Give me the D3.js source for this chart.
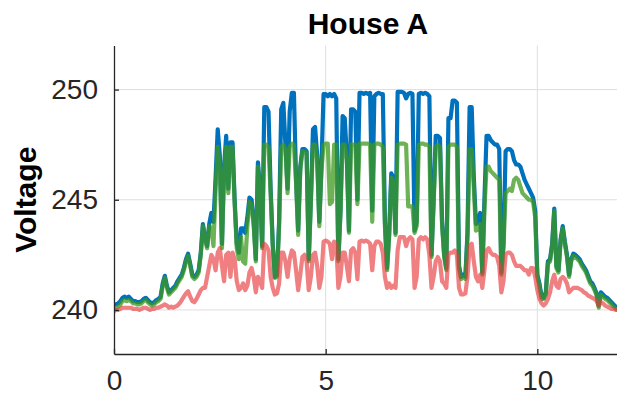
<!DOCTYPE html>
<html>
<head>
<meta charset="utf-8">
<script src="https://cdn.jsdelivr.net/npm/d3@7"></script>
<style>
  body { margin: 0; background: #fff; }
  text { font-family: "Liberation Sans", Arial, Helvetica, sans-serif; }
</style>
</head>
<body>
<svg id="chart" width="617" height="404"></svg>
<script>
// values, one every 0.05 h (3 min), 0..12 h
const stepHours = 0.05;

const voltageBlue = [
  240.25, 240.25, 240.3, 240.4, 240.55, 240.6, 240.55, 240.6, 240.5, 240.4, 240.4, 240.35, 240.35, 240.4, 240.5, 240.55, 240.45, 240.35, 240.3, 240.35,
  240.45, 240.5, 240.6, 241.2, 241.55, 241.1, 240.8, 240.9, 241.0, 241.1, 241.3, 241.45, 241.6, 241.9, 242.3, 242.55, 242.1, 241.6, 241.5, 241.6,
  241.8, 242.6, 243.9, 243.3, 242.9, 243.9, 244.4, 244.0, 246.0, 248.2, 247.0, 243.0, 246.5, 247.9, 245.5, 247.6, 247.6, 245.0, 243.0, 242.6,
  243.7, 243.7, 243.5, 244.2, 245.1, 245.0, 244.0, 242.3, 246.7, 245.5, 242.9, 249.2, 249.2, 249.0, 245.5, 243.0, 241.5, 241.6, 244.0, 249.1,
  249.4, 247.5, 245.5, 249.0, 249.85, 249.85, 246.0, 243.6, 246.5, 247.3, 247.3, 247.2, 242.3, 245.0, 248.2, 248.3, 247.0, 244.0, 246.5, 249.8,
  249.8, 249.7, 249.8, 249.7, 249.8, 249.6, 242.3, 244.5, 248.8, 248.7, 247.0, 243.6, 249.1, 249.1, 249.0, 245.0, 249.85, 249.85, 249.8, 249.85,
  249.8, 249.85, 244.5, 249.7, 249.8, 249.85, 249.8, 249.8, 244.0, 241.9, 243.5, 246.2, 246.0, 243.5, 249.9, 249.9, 249.9, 249.85, 249.6, 249.8,
  249.85, 249.8, 243.6, 244.0, 249.8, 249.85, 249.8, 249.85, 249.8, 249.7, 242.5, 245.0, 247.9, 247.9, 247.8, 244.0, 242.5, 241.9, 248.7, 248.7,
  249.5, 249.5, 249.4, 242.0, 241.5, 241.6, 241.5, 243.5, 249.2, 249.2, 246.0, 243.9, 244.0, 244.4, 241.7, 245.0, 247.9, 247.9, 247.7, 247.6,
  247.5, 247.5, 247.3, 241.7, 243.0, 247.2, 247.3, 247.3, 247.2, 246.8, 246.6, 246.6, 246.5, 246.2, 245.9, 245.7, 245.5, 245.3, 245.1, 244.5,
  241.6, 241.2, 240.6, 240.55, 240.8, 242.2, 242.3, 243.0, 244.6, 242.0, 241.8, 243.2, 243.8, 243.1, 242.5, 241.6, 242.3, 242.55, 242.5, 242.4,
  242.3, 242.1, 241.95, 241.8, 241.55, 241.3, 241.2, 241.0, 240.75, 240.2, 240.8, 240.7, 240.6, 240.55, 240.45, 240.35, 240.25, 240.15, 240.1, 240.05,
  240.0
];

const voltageGreen = [
  240.1, 240.1, 240.15, 240.25, 240.4, 240.45, 240.4, 240.45, 240.4, 240.3, 240.3, 240.25, 240.25, 240.3, 240.4, 240.45, 240.35, 240.25, 240.2, 240.25,
  240.35, 240.4, 240.5, 241.1, 241.45, 241.0, 240.7, 240.8, 240.9, 241.0, 241.2, 241.35, 241.5, 241.8, 242.2, 242.45, 242.0, 241.5, 241.4, 241.5,
  241.7, 242.5, 243.8, 243.2, 242.8, 243.8, 243.7, 242.9, 245.5, 247.4, 246.5, 242.8, 246.3, 247.4, 245.3, 247.4, 247.4, 244.8, 242.8, 242.3,
  243.3, 242.2, 242.1, 243.8, 244.9, 244.8, 243.8, 242.2, 246.5, 245.3, 242.8, 247.5, 247.5, 247.4, 245.3, 242.9, 241.45, 241.5, 243.8, 247.4,
  247.5, 247.3, 245.3, 247.4, 247.55, 247.5, 245.8, 243.4, 246.3, 247.2, 247.2, 247.1, 242.2, 244.8, 247.5, 247.5, 246.8, 243.8, 246.3, 247.5,
  247.55, 247.55, 244.8, 244.9, 247.5, 247.5, 242.2, 244.4, 247.5, 247.5, 246.8, 243.5, 247.5, 247.5, 247.5, 244.8, 247.55, 247.55, 247.55, 247.55,
  247.55, 247.5, 244.0, 247.5, 247.55, 247.55, 247.5, 247.4, 243.8, 241.8, 243.3, 246.0, 245.8, 243.4, 247.5, 247.55, 247.55, 247.55, 247.5, 244.7,
  244.7, 244.7, 243.5, 243.8, 247.5, 247.55, 247.55, 247.5, 247.5, 247.4, 242.4, 244.8, 247.4, 247.5, 247.4, 243.8, 242.4, 241.8, 247.4, 247.5,
  247.5, 247.5, 247.4, 241.9, 241.4, 241.5, 241.4, 243.3, 247.3, 247.3, 245.5, 243.6, 243.7, 243.9, 241.6, 244.5, 246.5, 246.5, 246.3, 246.2,
  246.1, 246.0, 245.9, 241.6, 242.8, 245.3, 245.4, 245.5, 245.4, 245.9, 246.0, 245.9, 245.6, 245.3, 245.2, 245.1, 245.0, 245.0, 244.9, 244.2,
  241.5, 241.1, 240.5, 240.5, 240.7, 242.1, 242.2, 242.9, 244.5, 241.9, 241.7, 243.1, 243.7, 243.0, 242.4, 241.5, 242.2, 242.45, 242.4, 242.3,
  242.2, 242.0, 241.85, 241.7, 241.45, 241.2, 241.1, 240.9, 240.65, 240.1, 240.7, 240.6, 240.5, 240.45, 240.35, 240.25, 240.15, 240.05, 240.0, 239.95,
  239.95
];

const voltageRed = [
  239.95, 240.0, 240.0, 240.05, 240.1, 240.1, 240.1, 240.1, 240.1, 240.05, 240.05, 240.05, 240.0, 240.05, 240.1, 240.1, 240.05, 240.0, 240.05, 240.05,
  240.1, 240.1, 240.15, 240.2, 240.25, 240.2, 240.1, 240.15, 240.1, 240.15, 240.2, 240.3, 240.45, 240.6, 240.75, 240.85, 240.6, 240.4, 240.35, 240.5,
  240.7, 240.9, 241.0, 241.0, 241.5, 242.0, 242.5, 242.3, 241.8, 242.6, 242.8, 242.0, 241.3, 242.5, 242.6, 241.5, 242.6, 242.3, 241.3, 240.9,
  241.0, 241.2, 240.9, 241.1, 241.7, 241.9, 241.5, 240.8, 241.5, 241.3, 241.0, 243.0, 242.9, 242.7, 241.5, 241.0, 240.7, 240.75, 241.2, 242.6,
  242.6, 242.2, 241.5, 242.3, 242.7, 242.6, 241.8, 240.9, 241.6, 242.4, 242.5, 242.2, 240.9, 241.5, 242.5, 242.6, 242.0, 241.0, 241.5, 243.1,
  243.15, 243.1, 243.0, 242.3, 243.1, 243.0, 241.0, 241.5, 242.6, 242.6, 242.0, 241.3, 242.7, 242.8, 242.6, 241.4, 243.1, 243.15, 243.1, 243.15,
  243.1, 243.0, 241.8, 242.9, 243.1, 243.1, 243.0, 242.6, 241.5, 241.0, 241.2, 241.0, 241.1, 241.0, 242.7, 243.3, 243.3, 243.3, 242.9, 243.2,
  243.3, 243.2, 241.0, 241.5, 243.2, 243.3, 243.2, 243.3, 243.2, 242.5, 241.0, 241.5, 242.2, 242.4, 242.2, 241.3, 241.2, 241.0, 242.5, 242.6,
  242.6, 242.7, 242.5, 241.0, 240.7, 240.7, 240.75, 241.5, 242.9, 243.0, 242.2, 241.5, 241.3, 241.6, 241.0, 241.8, 242.7, 242.8, 242.6, 242.5,
  242.5, 242.4, 242.0, 240.8, 241.3, 242.5, 242.6, 242.6, 242.5, 242.2, 242.0, 242.0, 242.0, 241.9, 241.8, 241.8, 241.6, 241.9, 241.9, 241.5,
  240.9, 240.5, 240.3, 240.2, 240.3, 240.5, 240.8, 241.3, 241.6, 241.1, 241.0, 241.4, 241.5, 241.4, 241.2, 240.8, 240.9, 241.0, 241.0, 241.0,
  240.95, 240.9, 240.8, 240.75, 240.65, 240.6, 240.55, 240.5, 240.4, 240.2, 240.35, 240.3, 240.2, 240.15, 240.1, 240.05, 240.05, 240.0, 240.0, 240.0,
  239.95
];

const xTicks = [0, 5, 10];
const yTicks = [240, 245, 250];

const svg = d3.select("#chart");
const margin = { top: 45.5, right: -5, bottom: 50, left: 114 };
const width = +svg.attr("width") - margin.left - margin.right;
const height = +svg.attr("height") - margin.top - margin.bottom;

const x = d3.scaleLinear().domain([0, 12]).range([0, width]);
const y = d3.scaleLinear().domain([238, 252]).range([height, 0]);

const chart = svg.append("g").attr("transform", `translate(${margin.left},${margin.top})`);

chart.append("clipPath").attr("id", "plot-clip")
  .append("rect").attr("x", 0).attr("y", -5).attr("width", width).attr("height", height + 5);

// grid
chart.append("g").selectAll("line").data(xTicks.filter(d => d > 0)).join("line")
  .attr("x1", d => x(d)).attr("x2", d => x(d))
  .attr("y1", 0).attr("y2", height)
  .attr("stroke", "#dedede").attr("stroke-width", 1);
chart.append("g").selectAll("line").data(yTicks).join("line")
  .attr("x1", 0).attr("x2", width)
  .attr("y1", d => y(d)).attr("y2", d => y(d))
  .attr("stroke", "#dedede").attr("stroke-width", 1);

// series
const series = [
  { values: voltageBlue, color: "#0072bd", opacity: 1 },
  { values: voltageGreen, color: "#3c981c", opacity: 0.75 },
  { values: voltageRed, color: "#e63c40", opacity: 0.66 }
];

const line = d3.line()
  .x((d, i) => x(i * stepHours))
  .y(d => y(d));

chart.append("g").attr("clip-path", "url(#plot-clip)")
  .selectAll("path").data(series).join("path")
  .attr("d", d => line(d.values))
  .attr("fill", "none")
  .attr("stroke", d => d.color)
  .attr("stroke-opacity", d => d.opacity)
  .attr("stroke-width", 4.2)
  .attr("stroke-linejoin", "round");

// axes
const xAxis = chart.append("g").attr("transform", `translate(0,${height})`)
  .call(d3.axisBottom(x).tickValues(xTicks).tickSize(-5).tickSizeOuter(0).tickPadding(16));
const yAxis = chart.append("g")
  .call(d3.axisLeft(y).tickValues(yTicks).tickSize(-5).tickSizeOuter(0).tickPadding(16));

[xAxis, yAxis].forEach(a => {
  a.select(".domain").attr("stroke", "#262626").attr("stroke-width", 1.3);
  a.selectAll(".tick line").attr("stroke", "#262626").attr("stroke-width", 1.3);
  a.selectAll(".tick text").attr("fill", "#262626").style("font-size", "28px");
});

// title and label
svg.append("text")
  .attr("x", margin.left + x(6))
  .attr("y", 34)
  .attr("text-anchor", "middle")
  .style("font-size", "30px")
  .style("font-weight", "bold")
  .attr("fill", "#000")
  .text("House A");

svg.append("text")
  .attr("transform", `translate(36,${margin.top + height / 2}) rotate(-90)`)
  .attr("text-anchor", "middle")
  .style("font-size", "30px")
  .style("font-weight", "bold")
  .attr("fill", "#000")
  .text("Voltage");
</script>
</body>
</html>
